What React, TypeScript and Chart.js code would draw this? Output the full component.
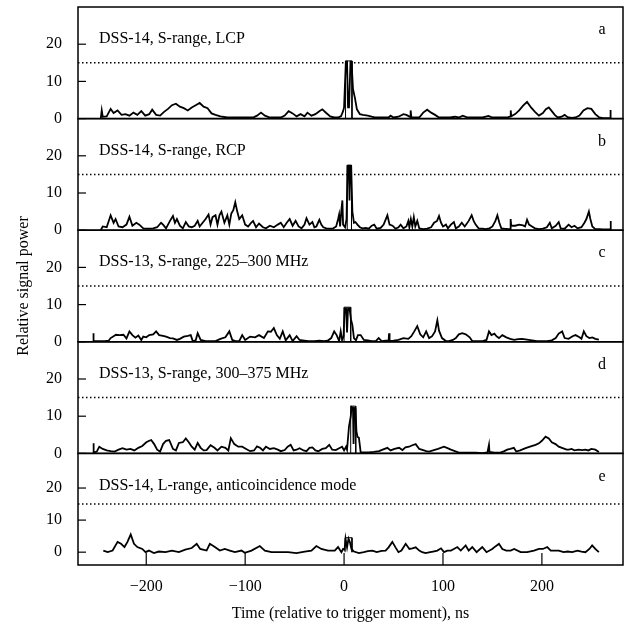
import { useEffect, useRef } from "react";
import { Chart, registerables } from "chart.js";

Chart.register(...registerables);

// ---- axes / labels ----
const xMin = -269;
const xMax = 282;
const xTicks = [-200, -100, 0, 100, 200];
const xTickLabels = ["\u2212200", "\u2212100", "0", "100", "200"];
const yTicks = [0, 10, 20];
const threshold = 15;
const panelNames = [
  "DSS-14, S-range, LCP",
  "DSS-14, S-range, RCP",
  "DSS-13, S-range, 225\u2013300 MHz",
  "DSS-13, S-range, 300\u2013375 MHz",
  "DSS-14, L-range, anticoincidence mode",
];
const panelLetters = ["a", "b", "c", "d", "e"];
const panelMin = [0, 0, 0, 0, -4];
const panelMax = [30, 30, 30, 30, 30.8];
const xTitle = "Time (relative to trigger moment), ns";
const yTitle = "Relative signal power";

// ---- traces: [time ns, relative power] ----
const traceLCP: [number, number][] = [
  [-246, 0], [-245, 2.2], [-244, 0.5], [-240, 0.6], [-236, 2.6], [-233, 1.5], [-229, 2.2], [-225, 1.0],
  [-221, 1.2], [-217, 0.8], [-213, 1.6], [-209, 1.0], [-205, 2.0], [-201, 0.8], [-197, 1.2], [-194, 2.4],
  [-190, 1.0], [-186, 0.8], [-182, 1.8], [-178, 2.6], [-174, 3.6], [-170, 4.0], [-166, 3.2], [-162, 2.8],
  [-158, 2.2], [-154, 3.0], [-150, 3.6], [-146, 4.2], [-142, 3.2], [-138, 2.8], [-134, 1.4], [-130, 1.0],
  [-125, 0.6], [-118, 0.3], [-110, 0.3], [-100, 0.3], [-92, 0.3], [-88, 0.8], [-84, 1.6], [-80, 0.8],
  [-75, 0.3], [-70, 0.3], [-64, 0.3], [-60, 0.8], [-56, 2.0], [-52, 1.4], [-48, 0.6], [-44, 1.2],
  [-40, 0.6], [-37, 1.6], [-33, 0.8], [-29, 1.2], [-25, 2.0], [-22, 2.5], [-18, 1.5], [-14, 0.6],
  [-10, 0.3], [-6, 0.3], [-3, 0.7], [-1, 2.0], [0, 3.0], [1.8, 15.3], [3, 15.3], [4, 3.0], [5, 3.0],
  [6.5, 15.3], [7.5, 15.3], [9, 8.0], [11, 5.5], [13, 2.5], [16, 1.2], [19, 1.0], [24, 0.8], [28, 0.5],
  [31, 0.3], [40, 0.3], [45, 0.3], [47, 0.8], [50, 0.3], [55, 0.5], [60, 1.2], [63, 1.0], [67, 0.4],
  [67.3, 2.2], [68, 0.4], [72, 0.3], [76, 0.3], [80, 1.6], [84, 2.4], [88, 1.6], [92, 1.0], [96, 0.3],
  [102, 0.3], [107, 0.3], [112, 0.5], [116, 0.3], [120, 0.8], [125, 0.3], [130, 0.3], [140, 0.3],
  [146, 0.7], [150, 0.3], [158, 0.3], [165, 0.3], [168, 0.6], [168.5, 2.2], [169, 0.6], [173, 1.2],
  [177, 2.2], [181, 3.5], [185, 4.5], [189, 3.0], [193, 1.8], [197, 0.8], [201, 1.5], [204, 2.5],
  [207, 3.0], [210, 2.0], [213, 1.0], [216, 0.3], [220, 0.5], [223, 1.0], [226, 0.4], [230, 0.2],
  [234, 0.3], [238, 0.8], [242, 2.2], [246, 2.8], [250, 2.6], [254, 1.2], [258, 0.3], [262, 0.1],
  [266, 0.1], [269, 0.1], [269.3, 2.3], [269.6, 0],
];

const traceRCP: [number, number][] = [
  [-246, 0], [-244, 1.0], [-240, 0.8], [-236, 4.0], [-233, 2.0], [-231, 3.0], [-228, 1.0], [-224, 0.8],
  [-220, 1.5], [-217, 3.6], [-214, 1.2], [-210, 2.0], [-207, 1.5], [-203, 0.5], [-198, 0.4], [-193, 0.5],
  [-189, 0.8], [-185, 2.0], [-183, 1.5], [-180, 0.5], [-176, 2.5], [-173, 3.8], [-171, 2.0], [-169, 3.0],
  [-166, 1.2], [-163, 0.5], [-160, 2.2], [-157, 1.0], [-154, 0.8], [-151, 1.2], [-148, 2.5], [-146, 1.0],
  [-143, 2.0], [-140, 3.0], [-137, 4.2], [-135, 1.5], [-133, 3.5], [-130, 4.0], [-128, 1.5], [-126, 4.0],
  [-124, 5.0], [-121, 2.0], [-118, 4.0], [-116, 1.5], [-114, 4.5], [-112, 5.4], [-110, 7.5], [-108, 5.0],
  [-106, 3.0], [-103, 4.0], [-100, 1.5], [-97, 1.0], [-94, 2.0], [-92, 2.5], [-89, 0.8], [-86, 1.8],
  [-82, 0.8], [-79, 0.5], [-75, 1.2], [-71, 0.8], [-67, 1.5], [-64, 2.0], [-61, 0.8], [-58, 2.0],
  [-55, 3.0], [-52, 1.2], [-49, 2.5], [-46, 1.0], [-43, 0.5], [-40, 1.5], [-38, 3.2], [-35, 1.5],
  [-32, 2.2], [-30, 0.8], [-28, 1.0], [-25, 2.8], [-23, 1.5], [-21, 0.8], [-18, 0.5], [-14, 0.4],
  [-11, 0.5], [-8, 1.0], [-6, 3.0], [-5, 4.2], [-4, 1.0], [-2.5, 6.0], [-1.7, 8.0], [-1, 1.5],
  [1, 0.8], [2.5, 3.0], [3.5, 17.3], [4.8, 17.3], [5.5, 8.0], [6.2, 17.3], [7.2, 17.3], [8.4, 5.0],
  [10, 2.0], [11.5, 2.2], [13.5, 1.5], [16, 0.8], [18.5, 0.5], [22, 0.6], [25, 0.4], [28, 1.2],
  [30.5, 1.5], [33, 0.4], [37, 0.6], [40, 1.5], [43.8, 4.0], [46, 1.5], [49, 1.2], [52, 0.4],
  [55, 0.8], [57.2, 1.5], [60, 0.5], [63, 1.0], [65, 2.5], [66, 0.8], [67.5, 3.0], [69, 1.0],
  [70.5, 3.5], [72, 1.0], [74, 2.5], [76, 0.5], [80, 0.3], [84, 0.4], [88, 0.8], [91, 2.0],
  [94, 2.5], [96, 3.8], [98, 2.0], [100, 1.0], [103, 1.5], [105, 0.5], [108, 1.5], [111, 2.2],
  [113, 0.5], [116, 1.0], [119, 2.0], [122, 1.0], [126, 2.5], [129, 4.0], [131, 2.5], [133, 1.5],
  [136, 0.5], [140, 0.4], [143, 0.3], [147, 0.5], [150, 1.0], [153, 2.5], [155, 4.0], [157, 2.0],
  [159, 0.5], [162, 0.4], [166, 0.3], [168, 0.3], [168.4, 3.0], [169, 1.2], [173, 1.2], [177, 1.5],
  [181, 1.3], [183, 1.0], [185, 2.8], [187, 1.5], [190, 1.0], [193, 0.5], [197, 0.3], [201, 0.4],
  [205, 0.8], [208, 2.0], [210, 0.5], [214, 1.2], [217, 2.2], [219, 0.5], [223, 0.4], [227, 1.5],
  [230, 0.8], [233, 1.2], [236, 0.5], [240, 0.8], [243, 2.0], [245, 3.0], [247.5, 5.0], [249, 3.0],
  [251, 1.0], [254, 0.3], [258, 0.3], [262, 0.2], [266, 0.2], [269, 0.2], [269.4, 2.5], [269.8, 0],
];

const traceS225: [number, number][] = [
  [-253.5, 0], [-253.4, 2.3], [-253.2, 0.2], [-248, 0.2], [-242, 0.2], [-238, 0.3], [-236, 1.0], [-233, 1.5],
  [-230.6, 1.9], [-227, 1.8], [-223, 1.9], [-220, 0.9], [-217, 2.8], [-214, 1.8], [-211, 1.1], [-208, 1.7],
  [-205, 0.5], [-203, 1.4], [-200, 1.2], [-197, 1.8], [-193, 2.0], [-190, 2.8], [-187, 1.8], [-183, 1.6],
  [-180, 1.4], [-176, 1.0], [-173, 0.9], [-169, 0.5], [-166, 0.8], [-162, 1.4], [-158, 1.6], [-155, 1.8],
  [-153, 0.2], [-150, 0.4], [-148, 2.3], [-145, 0.5], [-140, 0.2], [-135, 0.2], [-130, 0.2], [-125, 0.8],
  [-120, 1.2], [-116, 2.8], [-113, 0.5], [-110, 0.2], [-106, 0.2], [-103, 1.8], [-100, 0.5], [-95, 1.4],
  [-90, 1.2], [-86, 1.8], [-81, 1.0], [-77, 2.8], [-74, 2.7], [-71, 3.7], [-68, 1.8], [-65, 0.8],
  [-62, 2.8], [-59, 0.4], [-55, 1.8], [-52, 0.2], [-48, 1.5], [-45, 0.5], [-42, 0.4], [-36, 0.2],
  [-30, 0.2], [-25, 0.3], [-20, 0.2], [-16, 0.4], [-13, 1.0], [-10, 2.8], [-7.5, 1.8], [-5, 0.2],
  [-3.4, 2.8], [-2, 0.5], [-0.5, 1.5], [0.5, 9.0], [2.0, 9.0], [3, 2.5], [4, 9.0], [5.5, 9.0],
  [7, 6.0], [8.4, 4.5], [10, 1.0], [12, 0.4], [14, 1.8], [16.8, 1.8], [20, 0.5], [24, 0.4],
  [28, 0.2], [32, 0.2], [35, 1.0], [38, 0.2], [42, 0.3], [45, 0.3], [45.5, 2.3], [46, 0.2],
  [50, 0.3], [55, 0.5], [60, 1.0], [65, 0.8], [68, 1.5], [71, 2.8], [74, 4.2], [77, 2.0],
  [80, 1.2], [83, 2.8], [86, 1.0], [89, 1.5], [92, 2.8], [94.3, 5.8], [96, 3.0], [99, 1.0],
  [103, 0.2], [106, 0.2], [110, 0.5], [113, 1.0], [116, 2.0], [119.5, 2.3], [123, 2.0], [127, 1.2],
  [129.6, 0.2], [135, 0.2], [140, 0.2], [144, 0.5], [146.5, 2.8], [149, 1.8], [152, 2.2], [154, 1.5],
  [156.6, 1.0], [160, 1.8], [164, 1.2], [168, 0.8], [172, 0.5], [176, 0.7], [180, 0.8], [185, 0.6],
  [190, 0.4], [195, 0.2], [200, 0.2], [205, 0.2], [210, 0.4], [214, 1.0], [217, 2.2], [220.5, 2.8],
  [223, 1.0], [227, 0.8], [231, 1.5], [234, 1.8], [238, 1.2], [240, 0.8], [242.4, 2.8], [245, 1.5],
  [248, 1.0], [251, 1.2], [254, 0.8], [257.6, 0.6],
];

const traceS300: [number, number][] = [
  [-253.5, 0], [-253.4, 2.7], [-253, 0.2], [-250, 0.5], [-247.5, 1.8], [-244, 1.2], [-240, 0.8], [-236, 0.6],
  [-232, 0.5], [-228, 1.0], [-224, 1.4], [-220, 1.0], [-216, 1.2], [-212, 0.8], [-208, 1.5], [-204, 2.0],
  [-200, 3.0], [-197, 3.4], [-195, 3.6], [-192, 2.5], [-189, 1.0], [-186, 0.5], [-183, 2.5], [-180, 3.4],
  [-176.8, 3.6], [-173, 1.2], [-170, 0.8], [-167, 2.8], [-163, 3.0], [-160, 4.0], [-157, 3.0], [-154, 1.8],
  [-151, 1.0], [-148, 2.8], [-145, 1.5], [-142, 0.8], [-139, 0.9], [-135, 2.2], [-131, 1.5], [-128, 0.8],
  [-124, 1.8], [-120, 1.5], [-117, 0.8], [-114.5, 4.1], [-111, 2.5], [-107, 1.8], [-103, 1.8], [-99, 1.2],
  [-95, 0.6], [-91, 0.8], [-88, 1.9], [-85, 1.5], [-82, 0.8], [-79, 1.8], [-75, 1.2], [-71, 1.4],
  [-67, 1.0], [-64, 0.6], [-60, 0.9], [-57, 1.8], [-54, 2.3], [-51, 0.8], [-48, 1.0], [-45, 1.4],
  [-41, 0.8], [-38, 0.6], [-35, 1.5], [-32, 1.6], [-29, 0.8], [-26, 0.6], [-22, 1.2], [-18.5, 1.4],
  [-15, 2.3], [-12, 1.0], [-8.4, 0.9], [-5, 1.4], [-2, 1.8], [0, 0.8], [2, 1.8], [3, 1.0],
  [5, 7.3], [6.8, 10.0], [7.5, 12.5], [9, 12.2], [9.6, 2.5], [10.4, 12.2], [11.5, 12.0], [12.5, 6.0],
  [13.5, 4.5], [15, 4.2], [16.8, 0.3], [20, 0.3], [25, 0.3], [30, 0.4], [35.4, 0.6], [39, 1.0],
  [43.8, 1.5], [47, 0.8], [51, 1.2], [55.6, 1.5], [59, 0.9], [62, 1.6], [65.7, 1.8], [69, 2.2],
  [72.4, 2.5], [76, 1.2], [80, 0.9], [83, 0.6], [86, 0.5], [90, 0.8], [95, 1.2], [101, 1.8],
  [104, 1.5], [108, 1.0], [112, 0.6], [116, 0.2], [122, 0.2], [128, 0.2], [133, 0.2], [140, 0.1],
  [145, 0.3], [146.5, 2.3], [147, 0.4], [152, 0.2], [158, 0.2], [162, 0.6], [165, 1.0], [168, 1.2],
  [171.7, 1.5], [174, 0.5], [178, 0.8], [183.5, 1.4], [188, 1.8], [193.6, 2.3], [197, 2.7], [200, 3.4],
  [203.7, 4.5], [207, 4.0], [210, 3.0], [213.8, 2.5], [217, 1.8], [221, 1.4], [225, 1.0], [227.3, 1.0],
  [230, 1.2], [233, 0.8], [237, 1.0], [240.7, 0.9], [244, 1.0], [247, 0.8], [250, 1.2], [254, 1.0],
  [257.6, 0.4],
];

const traceL: [number, number][] = [
  [-243.4, 0.5], [-239, 0], [-234, 0.5], [-229, 3.2], [-225.5, 2.6], [-222, 1.6], [-219, 3.2], [-215.7, 5.5],
  [-212.4, 2.6], [-209, 1.6], [-204, 1.0], [-200.7, 0], [-197.3, 0.5], [-192.3, -0.3], [-187.3, 0.2], [-180.6, 0],
  [-174, 0.5], [-167, 0], [-160.6, 0.8], [-154, 1.3], [-149, 2.6], [-145.5, 1.0], [-139, 0.5], [-135.7, 2.6],
  [-130.6, 1.6], [-125.6, 0.5], [-120.6, 1.0], [-115.5, 0.5], [-110.4, 0], [-103.7, 0.5], [-100.4, -0.2], [-93.6, 0.5],
  [-85.2, 1.9], [-80.1, 0.5], [-73.4, 0], [-66.7, 0], [-56.6, 0], [-48.2, -0.3], [-39.7, 0.2], [-33, 0.5],
  [-28, 1.9], [-23, 1.0], [-16.2, 0.5], [-9.4, 0.5], [-6.1, 1.6], [-2.7, 0], [-1, 1.0], [0.5, 0.8],
  [1.5, 4.2], [3, 1.5], [4.5, 4.2], [6, 3.0], [7.5, 1.0], [10, 0.2], [15, -0.3], [20, 0],
  [24, 0.3], [28.6, 0.5], [33, 0], [38, 0.4], [42, 0.5], [45, 1.5], [48.8, 3.2], [52, 1.5],
  [55, 0], [58, 0.5], [62.3, 2.6], [66, 1.0], [69, 1.2], [72.4, 1.5], [76, 0.5], [79, 0],
  [82.5, -0.3], [87, 0], [90, 0.2], [94.3, 0.5], [98, 1.2], [101, 0], [104.4, 0.5], [108, 0.5],
  [111, 1.0], [114.5, 1.6], [118, 0.5], [122.9, 2.1], [126, 0.5], [129.6, 1.6], [134, 0], [139.7, 1.6],
  [144, 0], [149.8, 1.0], [153, 1.8], [156.6, 2.6], [160, 1.0], [164, 0.5], [168.4, 0.5], [172, 1.0],
  [178.5, 0], [185, 0], [192, 0.5], [197, 1.0], [201, 1.0], [205.4, 1.6], [209, 0.5], [213, 0.5],
  [217, 0.5], [222, 0], [226, 0.2], [230.6, 0], [236, 0.5], [240, 0.2], [244, 0], [248, 1.0],
  [250.8, 2.1], [254, 1.0], [257.6, 0],
];

const traces = [traceLCP, traceRCP, traceS225, traceS300, traceL];

// clipped-peak boxes: [start ns, end ns, top value]
const peakBoxes: [number, number, number][] = [
  [1.5, 8.0, 15.5],
  [3.2, 7.5, 17.5],
  [0, 6.7, 9.3],
  [6.7, 11.8, 12.7],
  [1.0, 8.0, 4.5],
];

const axisIds = ["yA", "yB", "yC", "yD", "yE"];
const FONT = '"Liberation Serif", "Times New Roman", serif';

const framePlugin = {
  id: "panelFrames",
  afterDraw(chart: any) {
    const { ctx, chartArea } = chart;
    const { left, right, bottom } = chartArea;
    const xs = chart.scales.x;
    ctx.save();
    ctx.strokeStyle = "#000";
    ctx.fillStyle = "#000";
    ctx.lineWidth = 1.5;
    axisIds.forEach((id, i) => {
      const s = chart.scales[id];
      ctx.strokeRect(left, s.top, right - left, s.bottom - s.top);
      ctx.lineWidth = 1.2;
      yTicks.forEach((v) => {
        const y = s.getPixelForValue(v);
        ctx.beginPath();
        ctx.moveTo(left, y);
        ctx.lineTo(left + 8, y);
        ctx.stroke();
      });
      ctx.lineWidth = 1.5;
      ctx.font = `16px ${FONT}`;
      ctx.textBaseline = "middle";
      ctx.textAlign = "left";
      ctx.fillText(panelNames[i], left + 21, s.top + 32);
      ctx.textAlign = "center";
      ctx.fillText(panelLetters[i], right - 21, s.top + 23);
    });
    ctx.lineWidth = 1.2;
    xTicks.forEach((v) => {
      const x = xs.getPixelForValue(v);
      ctx.beginPath();
      ctx.moveTo(x, bottom);
      ctx.lineTo(x, bottom - 12);
      ctx.stroke();
    });
    ctx.restore();
  },
};

export default function App() {
  const ref = useRef<HTMLCanvasElement | null>(null);

  useEffect(() => {
    if (!ref.current) return;
    Chart.defaults.font.family = FONT;
    Chart.defaults.font.size = 16;
    Chart.defaults.color = "#000";

    const datasets: any[] = [];
    axisIds.forEach((id, i) => {
      datasets.push({
        label: panelNames[i],
        data: traces[i].map(([x, y]) => ({ x, y })),
        yAxisID: id,
        borderColor: "#000",
        borderWidth: 1.8,
        pointRadius: 0,
        tension: 0,
        fill: false,
      });
      const [b0, b1, bt] = peakBoxes[i];
      datasets.push({
        label: panelNames[i] + " peak",
        data: [
          { x: b0, y: 0 },
          { x: b0, y: bt },
          { x: b1, y: bt },
          { x: b1, y: 0 },
        ],
        yAxisID: id,
        borderColor: "#000",
        borderWidth: 1,
        pointRadius: 0,
        fill: false,
      });
      datasets.push({
        label: panelNames[i] + " threshold",
        data: [
          { x: xMin, y: threshold },
          { x: xMax, y: threshold },
        ],
        yAxisID: id,
        borderColor: "#000",
        borderWidth: 1.5,
        borderDash: [1.5, 2.5],
        pointRadius: 0,
        fill: false,
      });
    });

    const scales: any = {
      x: {
        type: "linear",
        position: "bottom",
        min: xMin,
        max: xMax,
        afterBuildTicks: (s: any) => {
          s.ticks = xTicks.map((value) => ({ value }));
        },
        afterFit: (s: any) => {
          s.height = 67;
          s.paddingLeft = 0;
          s.paddingRight = 0;
        },
        grid: { display: false, drawTicks: false },
        border: { display: false },
        ticks: {
          padding: 12,
          autoSkip: false,
          maxRotation: 0,
          font: { size: 16, family: FONT },
          color: "#000",
          callback: (v: number) => {
            const k = xTicks.indexOf(v);
            return k >= 0 ? xTickLabels[k] : "";
          },
        },
        title: {
          display: true,
          text: xTitle,
          font: { size: 16, family: FONT },
          color: "#000",
          padding: { top: 0, bottom: 9 },
        },
      },
    };
    axisIds.forEach((id, i) => {
      scales[id] = {
        type: "linear",
        position: "left",
        stack: "panels",
        stackWeight: 1,
        weight: 5 - i,
        min: panelMin[i],
        max: panelMax[i],
        afterBuildTicks: (s: any) => {
          s.ticks = yTicks.map((value) => ({ value }));
        },
        afterFit: (s: any) => {
          s.width = 78;
          s.paddingTop = 0;
          s.paddingBottom = 0;
        },
        grid: { display: false, drawTicks: false },
        border: { display: false },
        ticks: {
          padding: 16,
          autoSkip: false,
          font: { size: 16, family: FONT },
          color: "#000",
        },
        title: {
          display: i === 2,
          text: yTitle,
          font: { size: 16, family: FONT },
          color: "#000",
          padding: { top: 14, bottom: 0 },
        },
      };
    });

    const chart = new Chart(ref.current, {
      type: "line",
      data: { datasets },
      options: {
        animation: false,
        responsive: true,
        maintainAspectRatio: false,
        layout: { padding: { top: 7, right: 4, left: 0, bottom: 0 } },
        plugins: {
          legend: { display: false },
          tooltip: { enabled: false },
        },
        scales,
      },
      plugins: [framePlugin],
    });
    return () => chart.destroy();
  }, []);

  return (
    <div style={{ position: "absolute", left: 0, top: 0, width: 627, height: 632, background: "#fff" }}>
      <canvas ref={ref} />
    </div>
  );
}
